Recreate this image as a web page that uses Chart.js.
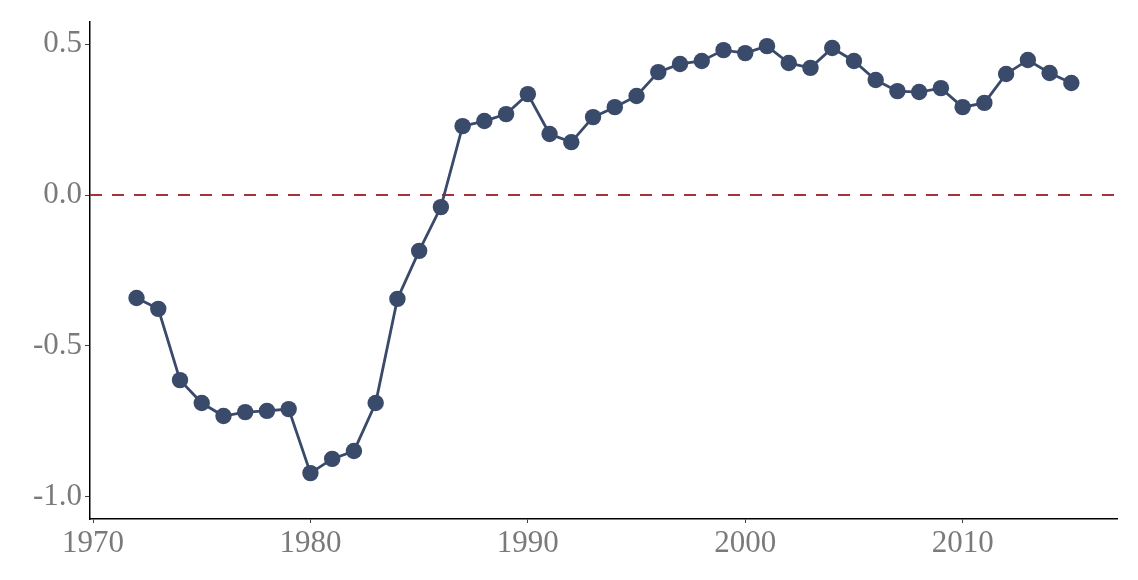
<!DOCTYPE html>
<html lang="en">
<head>
    <meta charset="UTF-8">
    <title>Index</title>
    <script src="https://cdn.jsdelivr.net/npm/chart.js"></script>
    <style>
        body {
            margin: 0;
            background: #ffffff;
        }
        #wrap {
            width: 1138px;
            height: 580px;
        }
    </style>
</head>
<body>
    <div id="wrap">
        <canvas id="mainChart" width="1138" height="580"></canvas>
    </div>

<script>
    // data
    const years = [1972, 1973, 1974, 1975, 1976, 1977, 1978, 1979, 1980, 1981,
        1982, 1983, 1984, 1985, 1986, 1987, 1988, 1989, 1990, 1991,
        1992, 1993, 1994, 1995, 1996, 1997, 1998, 1999, 2000, 2001,
        2002, 2003, 2004, 2005, 2006, 2007, 2008, 2009, 2010, 2011,
        2012, 2013, 2014, 2015];
    const values = [-0.341, -0.377, -0.613, -0.689, -0.732, -0.719, -0.715, -0.709, -0.921, -0.874,
        -0.848, -0.689, -0.344, -0.185, -0.040, 0.228, 0.245, 0.268, 0.334, 0.202,
        0.175, 0.258, 0.291, 0.328, 0.407, 0.434, 0.444, 0.480, 0.470, 0.493,
        0.437, 0.421, 0.487, 0.444, 0.381, 0.344, 0.341, 0.354, 0.291, 0.305,
        0.401, 0.447, 0.404, 0.371];
    const xTicks = [1970, 1980, 1990, 2000, 2010];
    const yTicks = [-1.0, -0.5, 0.0, 0.5];
    const refLineY = 0;

    const xMin = 1969.86, xMax = 2017.1;
    const yMin = -1.073, yMax = 0.573;

    const tickFont = { family: "'Liberation Serif', 'DejaVu Serif', serif", size: 31 };
    const tickColor = '#7a7a7a';

    let points = years.map((yr, i) => ({ x: yr, y: values[i] }));

    new Chart(document.getElementById('mainChart').getContext('2d'), {
        type: 'line',
        data: {
            datasets: [
                {
                    // zero reference line
                    data: [{ x: xMin, y: refLineY }, { x: xMax, y: refLineY }],
                    borderColor: '#a8303d',
                    borderWidth: 1.8,
                    borderDash: [12, 10],
                    pointRadius: 0,
                    order: 2
                },
                {
                    data: points,
                    borderColor: '#3a4a6a',
                    backgroundColor: '#3a4a6a',
                    borderWidth: 2.8,
                    pointRadius: 8.2,
                    pointBorderWidth: 0,
                    pointBackgroundColor: '#3a4a6a',
                    tension: 0,
                    order: 1
                }
            ]
        },
        options: {
            responsive: false,
            animation: false,
            layout: {
                padding: { top: 22, right: 21, left: 0, bottom: 0 }
            },
            plugins: {
                legend: { display: false },
                tooltip: { enabled: false }
            },
            scales: {
                x: {
                    type: 'linear',
                    min: xMin,
                    max: xMax,
                    afterBuildTicks: (scale) => {
                        scale.ticks = xTicks.map(v => ({ value: v }));
                    },
                    afterFit: (scale) => { scale.height = 61; },
                    ticks: {
                        font: tickFont,
                        color: tickColor,
                        padding: 2,
                        maxRotation: 0,
                        callback: (v) => String(v)
                    },
                    grid: {
                        drawOnChartArea: false,
                        drawTicks: true,
                        tickLength: 4,
                        color: '#444'
                    },
                    border: { display: true, color: '#000', width: 1.5 }
                },
                y: {
                    min: yMin,
                    max: yMax,
                    afterBuildTicks: (scale) => {
                        scale.ticks = yTicks.map(v => ({ value: v }));
                    },
                    afterFit: (scale) => { scale.width = 90; },
                    ticks: {
                        font: tickFont,
                        color: tickColor,
                        padding: 3,
                        callback: (v) => v.toFixed(1)
                    },
                    grid: {
                        drawOnChartArea: false,
                        drawTicks: true,
                        tickLength: 5,
                        color: '#444'
                    },
                    border: { display: true, color: '#000', width: 1.5 }
                }
            }
        }
    });
</script>
</body>
</html>
